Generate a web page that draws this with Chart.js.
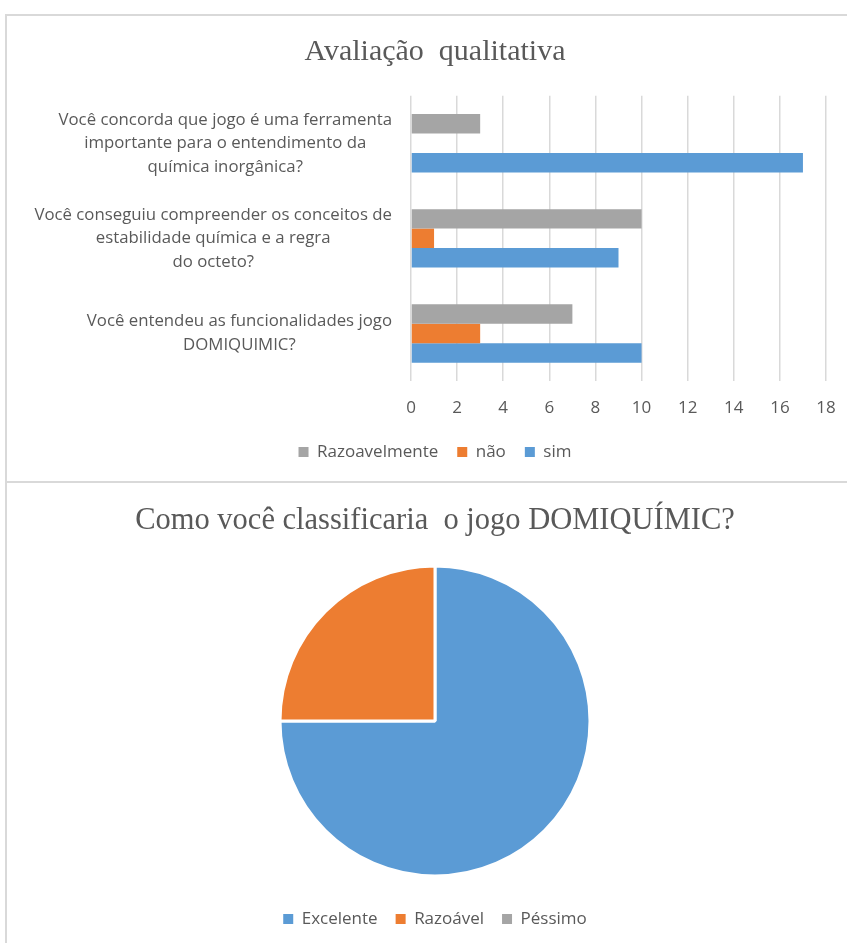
<!DOCTYPE html>
<html lang="pt-BR">
<head>
<meta charset="utf-8">
<title>Avaliação qualitativa</title>
<script src="https://cdn.jsdelivr.net/npm/chart.js@4"></script>
<style>
  html, body { margin: 0; padding: 0; background: #fff; }
  body { width: 847px; height: 943px; overflow: hidden; position: relative; }
  .quadro { position: absolute; left: 5px; width: 856px; border: 2px solid #d9d9d9; border-right: none; }
  #quadroBarras { top: 14px; height: 465px; }
  #quadroPizza { top: 483px; height: 460px; border-top: none; border-bottom: none; }
  canvas { display: block; }
</style>
</head>
<body>
<div class="quadro" id="quadroBarras"><canvas id="graficoBarras" width="856" height="465"></canvas></div>
<div class="quadro" id="quadroPizza"><canvas id="graficoPizza" width="856" height="460"></canvas></div>
<script>
// perguntas do questionário (uma linha por item do array)
const perguntas = [
    ['Você concorda que jogo é uma ferramenta', 'importante para o entendimento da', 'química inorgânica?'],
    ['Você conseguiu compreender os conceitos de', 'estabilidade química e a regra', 'do octeto?'],
    ['Você entendeu as funcionalidades jogo', 'DOMIQUIMIC?']
];
const razoavelmente = [3, 10, 7];
const nao = [0, 1, 3];
const sim = [17, 9, 10];
const eixoMin = 0;
const eixoMax = 18;
const eixoPasso = 2;

const classificacoes = ['Excelente', 'Razoável', 'Péssimo'];
const votos = [15, 5, 0];

const corTexto = '#595959';
const fonteTexto = 'Open Sans';
const fonteTitulo = 'Liberation Serif';

// rótulos das perguntas: cada bloco centralizado, alinhado à direita do eixo
const rotulosY = {
    id: 'rotulosY',
    afterDraw(chart){
        let ctx = chart.ctx;
        let y = chart.scales.y;
        ctx.save();
        ctx.font = '16.8px "' + fonteTexto + '"';
        ctx.fillStyle = corTexto;
        ctx.textAlign = 'center';
        ctx.textBaseline = 'middle';
        perguntas.forEach((linhas, i) => {
            let py = y.getPixelForValue(i);
            let larg = Math.max(...linhas.map(l => ctx.measureText(l).width));
            let cx = y.right - 19 - larg / 2;
            linhas.forEach((l, k) => {
                ctx.fillText(l, cx, py + (k - (linhas.length - 1) / 2) * 23.5);
            });
        });
        ctx.restore();
    }
};

new Chart(document.getElementById('graficoBarras'), {
    type: 'bar',
    data: {
        labels: perguntas,
        datasets: [
            { label: 'Razoavelmente', data: razoavelmente, backgroundColor: '#a5a5a5' },
            { label: 'não', data: nao, backgroundColor: '#ed7d31' },
            { label: 'sim', data: sim, backgroundColor: '#5b9bd5' }
        ]
    },
    options: {
        indexAxis: 'y',
        responsive: false,
        animation: false,
        datasets: { bar: { categoryPercentage: 0.614, barPercentage: 1, borderWidth: 0 } },
        layout: { padding: { left: 37, right: 37, top: 0, bottom: 10.5 } },
        scales: {
            x: {
                min: eixoMin,
                max: eixoMax,
                ticks: { stepSize: eixoPasso, padding: 16.8, color: corTexto, font: { family: fonteTexto, size: 17 } },
                grid: { color: '#d9d9d9', lineWidth: 1.5, drawTicks: false },
                border: { display: false },
                afterFit(s){ s.height = 43.5; }
            },
            y: {
                grid: { display: false },
                border: { display: false },
                ticks: { display: false },
                afterFit(s){ s.width = 367; }
            }
        },
        plugins: {
            title: {
                display: true,
                text: 'Avaliação  qualitativa',
                color: corTexto,
                font: { family: fonteTitulo, size: 30, weight: 'normal' },
                padding: { top: 18, bottom: 25.7 }
            },
            legend: {
                position: 'bottom',
                labels: { boxWidth: 10, boxHeight: 10, padding: 19, color: corTexto, font: { family: fonteTexto, size: 17 } }
            },
            tooltip: { enabled: false }
        }
    },
    plugins: [rotulosY]
});

new Chart(document.getElementById('graficoPizza'), {
    type: 'pie',
    data: {
        labels: classificacoes,
        datasets: [{
            data: votos,
            backgroundColor: ['#5b9bd5', '#ed7d31', '#a5a5a5'],
            borderColor: '#ffffff',
            borderWidth: 3,
            radius: 155
        }]
    },
    options: {
        responsive: false,
        animation: false,
        layout: { padding: { bottom: 5.5 } },
        plugins: {
            title: {
                display: true,
                text: 'Como você classificaria  o jogo DOMIQUÍMIC?',
                color: corTexto,
                font: { family: fonteTitulo, size: 30.5, weight: 'normal' },
                padding: { top: 19.7, bottom: 10.2 }
            },
            legend: {
                position: 'bottom',
                labels: {
                    boxWidth: 10, boxHeight: 10, padding: 18, color: corTexto,
                    font: { family: fonteTexto, size: 17 },
                    generateLabels(chart){
                        let itens = Chart.overrides.doughnut.plugins.legend.labels.generateLabels(chart);
                        itens.forEach(it => { it.lineWidth = 0; });
                        return itens;
                    }
                }
            },
            tooltip: { enabled: false }
        }
    }
});
</script>
</body>
</html>
